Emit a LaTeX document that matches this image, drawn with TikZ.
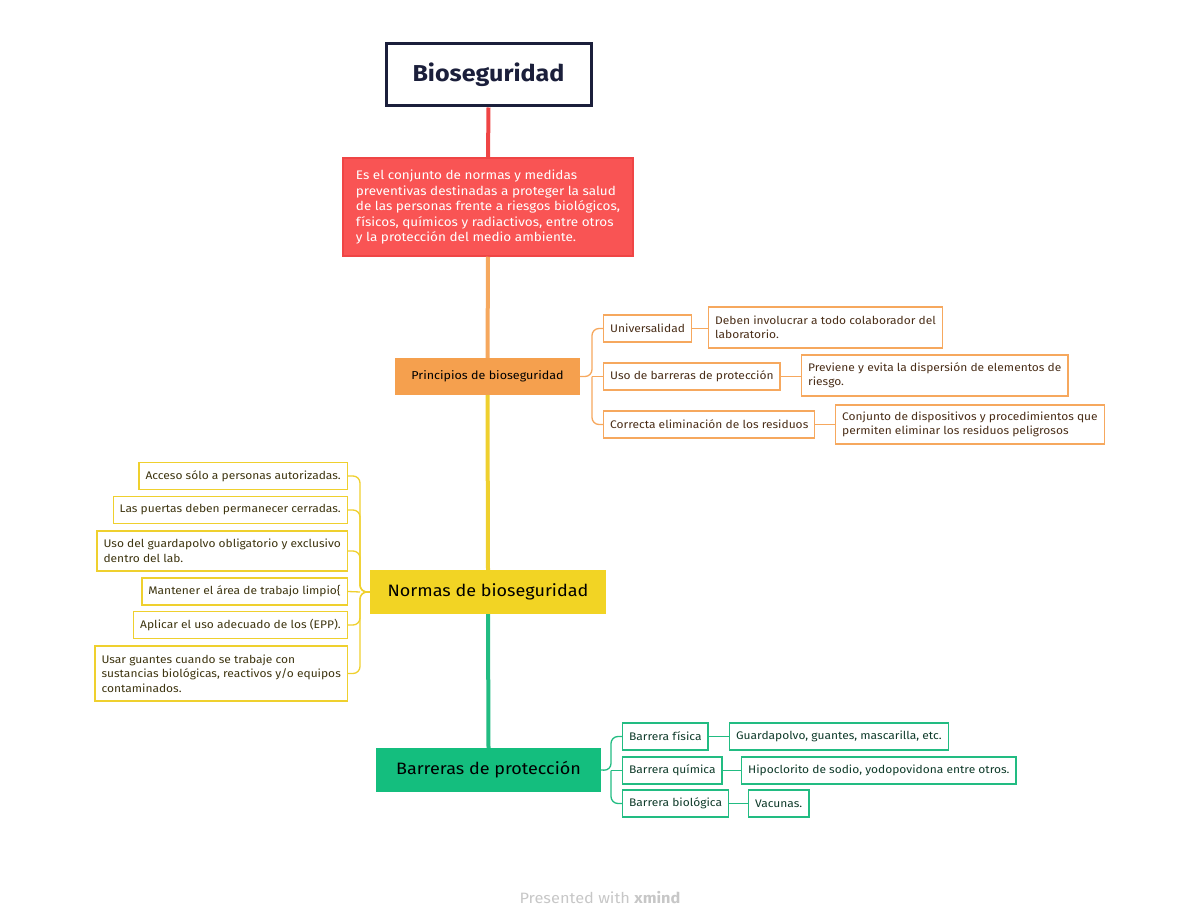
\documentclass[tikz,border=0pt]{standalone}
\usepackage{fontspec}
\setmainfont[FakeStretch=1.09]{Fira Sans}
\usetikzlibrary{positioning,calc}
\definecolor{navy}{HTML}{1B1F3B}
\definecolor{redfill}{HTML}{F95454}
\definecolor{redline}{HTML}{EF4545}
\definecolor{orangefill}{HTML}{F5A04E}
\definecolor{orangeline}{HTML}{F6A85E}
\definecolor{yellowfill}{HTML}{F2D424}
\definecolor{yellowline}{HTML}{EFD02E}
\definecolor{greenfill}{HTML}{14BE7E}
\definecolor{greenline}{HTML}{22BC82}
\definecolor{browntext}{HTML}{4A2E18}
\definecolor{olivetext}{HTML}{3E3510}
\definecolor{greentext}{HTML}{0F3B2A}
\tikzset{
  topicbox/.style={
    rectangle, draw=navy, line width=3pt, fill=white,
    minimum width=205pt, minimum height=62pt,
    text=navy, font=\bfseries\fontsize{23}{27}\selectfont},
  defbox/.style={
    rectangle, draw=redline, line width=1.5pt, fill=redfill,
    minimum width=290pt, minimum height=98pt,
    text=white, align=left, font=\fontsize{12.4}{15.5}\selectfont},
  mainbox/.style={
    rectangle, minimum height=44pt, text=black,
    font=\fontsize{16.5}{20}\selectfont},
  subbox/.style={
    rectangle, fill=white, line width=1.3pt, inner xsep=6.5pt,
    minimum height=27pt, align=left,
    font=\fontsize{11}{14.5}\selectfont},
  obox/.style={subbox, draw=orangeline, text=browntext},
  ybox/.style={subbox, draw=yellowline, text=olivetext},
  gbox/.style={subbox, draw=greenline, text=greentext},
  trunk/.style={line width=4pt},
  branch/.style={line width=1.3pt, rounded corners=7pt},
}
\begin{document}
\begin{tikzpicture}[x=1pt, y=-1pt]
  \useasboundingbox (0,0) rectangle (1200,920);

  % main column
  \node[topicbox] (bio) at (488.5,75) {Bioseguridad};
  \node[defbox] (def) at (488,207)
    {Es el conjunto de normas y medidas\\
     preventivas destinadas a proteger la salud\\
     de las personas frente a riesgos biológicos,\\
     físicos, químicos y radiactivos, entre otros\\
     y la protección del medio ambiente.};
  \node[mainbox, fill=orangefill, minimum width=185pt, minimum height=37pt,
        font=\fontsize{11.5}{14}\selectfont] (prin) at (487.5,376.5)
    {Principios de bioseguridad};
  \node[mainbox, fill=yellowfill, minimum width=236pt] (norm) at (488,592)
    {Normas de bioseguridad};
  \node[mainbox, fill=greenfill, minimum width=225pt] (barr) at (488.5,770)
    {Barreras de protección};

  \draw[trunk, redline] (bio.south) -- (def.north);
  \draw[trunk, orangeline] (def.south) -- (prin.north);
  \draw[trunk, yellowline] (prin.south) -- (norm.north);
  \draw[trunk, greenline] (norm.south) -- (barr.north);

  % principios
  \node[obox, anchor=west] (univ) at (603,328.5) {Universalidad};
  \node[obox, anchor=west] (usob) at (603,376.5) {Uso de barreras de protección};
  \node[obox, anchor=west] (corr) at (603,424.5) {Correcta eliminación de los residuos};
  \node[obox, anchor=west, minimum height=41pt] (deben) at (708,327.5)
    {Deben involucrar a todo colaborador del\\laboratorio.};
  \node[obox, anchor=west, minimum height=41pt] (prev) at (801,375.5)
    {Previene y evita la dispersión de elementos de\\riesgo.};
  \node[obox, anchor=west, minimum height=39pt] (conj) at (835,424.5)
    {Conjunto de dispositivos y procedimientos que\\permiten eliminar los residuos peligrosos};

  \coordinate (ptrunk) at (592,376.5);
  \draw[branch, orangeline] (prin.east) -- (ptrunk) |- (univ.west);
  \draw[branch, orangeline] (ptrunk) -- (usob.west);
  \draw[branch, orangeline] (ptrunk) |- (corr.west);
  \draw[branch, orangeline] (univ.east) -- (univ.east -| deben.west);
  \draw[branch, orangeline] (usob.east) -- (usob.east -| prev.west);
  \draw[branch, orangeline] (corr.east) -- (conj.west);

  % normas
  \node[ybox, anchor=east] (acc) at (348,476) {Acceso sólo a personas autorizadas.};
  \node[ybox, anchor=east] (puer) at (348,510) {Las puertas deben permanecer cerradas.};
  \node[ybox, anchor=east, minimum height=40pt] (guard) at (348,551)
    {Uso del guardapolvo obligatorio y exclusivo\\dentro del lab.};
  \node[ybox, anchor=east] (mant) at (348,591.5) {Mantener el área de trabajo limpio\{};
  \node[ybox, anchor=east] (epp) at (348,625) {Aplicar el uso adecuado de los (EPP).};
  \node[ybox, anchor=east, minimum height=55pt] (guan) at (348,673.5)
    {Usar guantes cuando se trabaje con\\sustancias biológicas, reactivos y/o equipos\\contaminados.};

  \coordinate (ntrunk) at (360,592);
  \foreach \n in {acc,puer,guard,epp,guan}
    \draw[branch, yellowline] (norm.west) -- (ntrunk) |- (\n.east);
  \draw[branch, yellowline] (ntrunk) -- (mant.east);

  % barreras
  \node[gbox, anchor=west] (fis) at (622,736.5) {Barrera física};
  \node[gbox, anchor=west] (qui) at (622,770.5) {Barrera química};
  \node[gbox, anchor=west] (biol) at (622,803.5) {Barrera biológica};
  \node[gbox, anchor=west] (gua) at (729,736.5) {Guardapolvo, guantes, mascarilla, etc.};
  \node[gbox, anchor=west] (hip) at (741,770.5) {Hipoclorito de sodio, yodopovidona entre otros.};
  \node[gbox, anchor=west] (vac) at (748,803.5) {Vacunas.};

  \coordinate (btrunk) at (611,770.5);
  \draw[branch, greenline] (barr.east) -- (btrunk) |- (fis.west);
  \draw[branch, greenline] (btrunk) -- (qui.west);
  \draw[branch, greenline] (btrunk) |- (biol.west);
  \draw[branch, greenline] (fis.east) -- (gua.west);
  \draw[branch, greenline] (qui.east) -- (hip.west);
  \draw[branch, greenline] (biol.east) -- (vac.west);

  \node[text=black!22, font=\fontsize{15}{18}\selectfont] (foot) at (600,898)
    {Presented with \textbf{xmind}};
\end{tikzpicture}
\end{document}
